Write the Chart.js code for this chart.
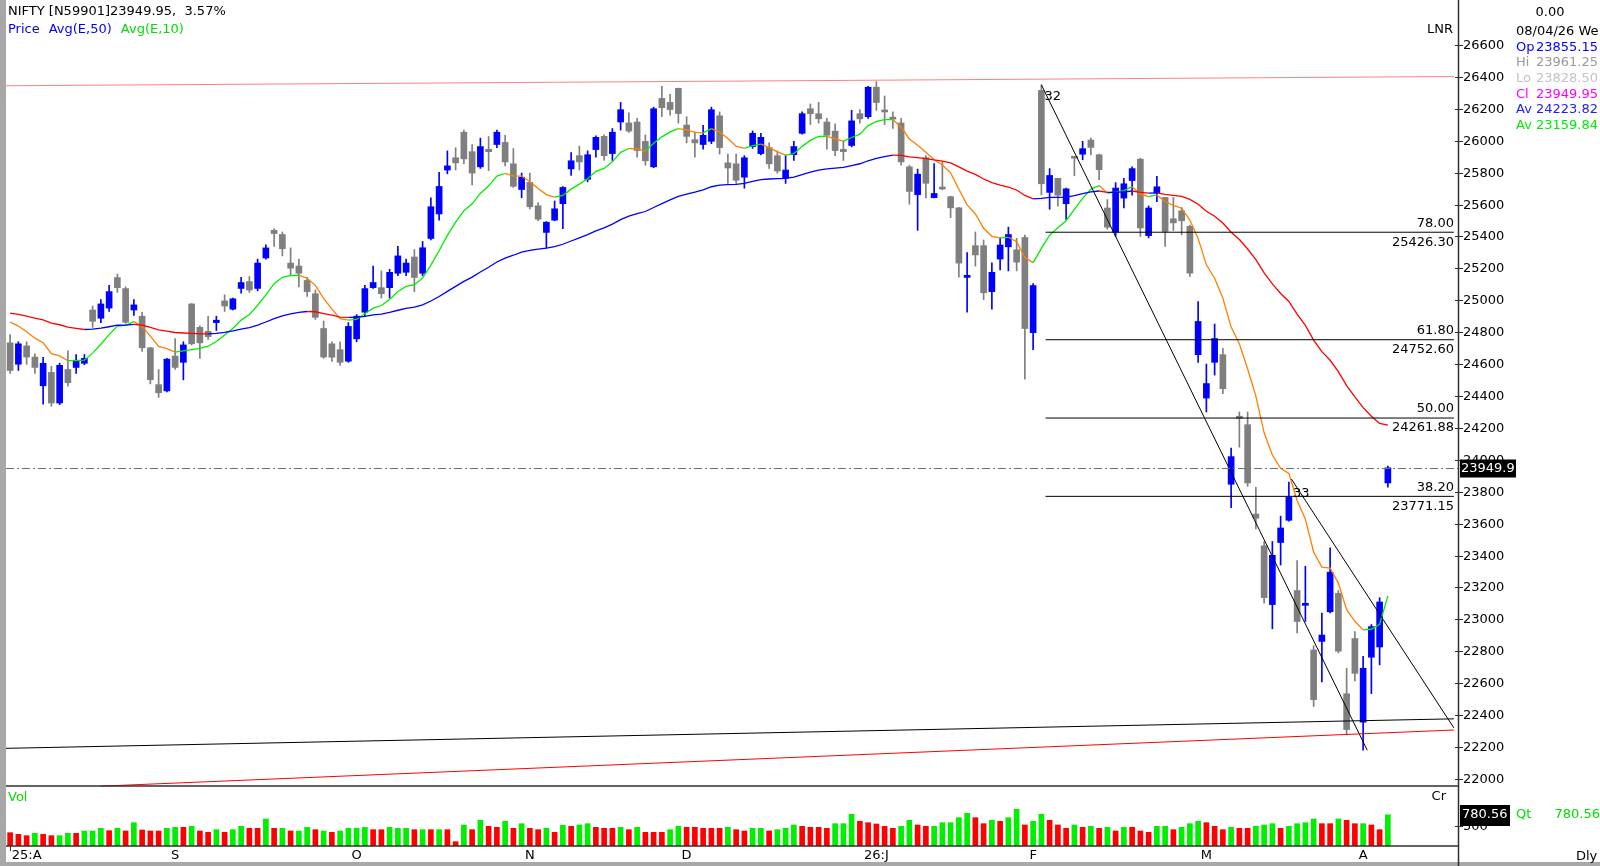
<!DOCTYPE html>
<html><head><meta charset="utf-8">
<script src="https://cdn.jsdelivr.net/npm/chart.js@4/dist/chart.umd.min.js"></script>
<style>html,body{margin:0;padding:0;background:#fff;overflow:hidden}canvas{display:block}</style>
</head><body><canvas id="c" width="1600" height="866"></canvas>
<script>
const opens=[24733,24599,24714,24644,24464,24548,24356,24566,24579,24605,
24939,24887,24951,25142,25073,24939,24900,24702,24471,24432,
24650,24611,24977,24830,24805,24860,24996,24944,25074,25117,
25074,25265,25438,25412,25233,25214,25124,25041,24823,24727,
24690,24618,24758,24925,25079,25079,25079,25169,25175,25271,
25169,25387,25541,25816,25893,26053,25931,25836,25946,25976,
25989,25855,25694,25739,25592,25425,25502,25605,25823,25906,
25758,25944,26027,25919,26117,26111,26117,25996,25836,26265,
26240,26328,26098,26006,25976,25996,26156,25861,25855,25771,
25963,25919,25957,25906,25765,25912,26046,26200,26169,26117,
26060,25946,25970,26169,26150,26335,26190,26140,26111,25836,
25662,25893,25643,25707,25649,25579,25143,25342,25342,25054,
25258,25335,25316,25393,24797,26315,25676,25764,25605,25900,
25915,26004,25911,25578,25426,25640,25750,25884,25405,25671,
25644,25511,25560,25463,24659,24387,24611,24659,23847,24273,
24220,23660,23461,23093,23482,23621,23181,23088,22808,22862,
23048,23163,22534,22880,22356,22763,22827,23855.15];
const highs=[24785,24740,24740,24665,24643,24586,24606,24683,24660,24660,
24964,25004,25094,25164,25084,25004,24925,24705,24566,24636,
24760,24740,24979,24840,24900,24900,25034,25014,25144,25149,
25258,25348,25448,25428,25328,25258,25144,25064,24870,24740,
24740,24860,24910,25094,25214,25184,25194,25338,25258,25318,
25368,25642,25802,25936,25956,26066,25976,26016,26026,26066,
26034,25951,25797,25797,25612,25493,25622,25712,25926,25966,
25936,26031,26036,26076,26240,26175,26140,26036,26210,26340,
26290,26330,26150,26056,26096,26210,26180,25916,25916,25906,
26061,26046,25986,25936,25906,25996,26180,26230,26240,26140,
26106,25996,26190,26195,26340,26370,26280,26180,26140,25846,
25822,25906,25856,25866,25652,25582,25298,25428,25378,25234,
25390,25458,25388,25408,25105,26350,25825,25764,25703,25900,
25996,26017,25916,25631,25737,25764,25836,25890,25591,25777,
25644,25644,25580,25471,24992,24600,24851,24699,24073,24300,
24300,23828,23487,23488,23647,23860,23368,23333,22835,23040,
23448,23181,22694,22923,22768,22968,23136,23961.25];
const lows=[24541,24560,24599,24541,24349,24336,24346,24462,24541,24596,
24830,24860,24930,25049,24855,24905,24680,24476,24391,24426,
24566,24501,24720,24636,24755,24810,24930,24939,25044,25049,
25059,25258,25338,25278,25154,25084,25024,24880,24636,24616,
24591,24611,24740,24900,25074,25014,25014,25154,25154,25054,
25154,25378,25502,25792,25816,25856,25722,25826,25812,25956,
25842,25707,25643,25572,25498,25328,25498,25448,25782,25816,
25742,25896,25876,25876,26066,26051,25896,25846,25831,26150,
26160,26110,25986,25896,25946,25981,25916,25732,25732,25702,
25951,25911,25826,25796,25732,25876,26041,26101,26110,25946,
25906,25876,25961,26110,26140,26190,26101,26076,25846,25602,
25438,25642,25642,25692,25518,25144,24925,25214,25004,24944,
25190,25184,25184,24506,24690,25660,25570,25590,25506,25780,
25880,25910,25756,25445,25400,25578,25658,25400,25391,25618,
25338,25437,25410,25150,24611,24300,24531,24414,23700,24079,
23834,23567,23101,22941,23341,23615,22915,22987,22454,22609,
23040,22790,22276,22614,22180,22535,22715,23828.50];
const closes=[24560,24727,24644,24579,24605,24356,24592,24483,24624,24636,
24868,24977,25054,25079,24862,24971,24702,24502,24420,24631,
24579,24720,24727,24733,24772,24875,24964,25009,25111,25064,
25233,25328,25418,25323,25201,25169,25054,24893,24644,24643,
24611,24836,24900,25073,25111,25041,25175,25278,25233,25143,
25329,25586,25713,25842,25861,25886,25797,25963,25931,26053,
25867,25714,25771,25586,25508,25489,25573,25707,25874,25867,
25912,26021,25906,26053,26194,26060,25938,25874,26200,26207,
26195,26170,26027,25986,26034,26194,25957,25829,25752,25893,
26046,26021,25855,25810,25816,25963,26169,26169,26137,26034,
25938,25931,26124,26137,26335,26239,26180,26135,25867,25682,
25790,25733,25669,25697,25579,25233,25156,25284,25047,25175,
25346,25412,25239,24823,25092,25730,25782,25658,25698,25890,
25950,25958,25818,25458,25703,25730,25825,25453,25578,25711,
25431,25485,25498,25170,24867,24478,24760,24446,24020,24260,
23855,23634,23136,23402,23573,23767,22987,23101,22497,22902,
23296,22801,22310,22662,22694,22955,23109,23949.95];
const volumes=[333,292,258,317,292,258,258,317,317,375,375,442,383,442,375,583,400,375,375,442,
467,467,492,375,342,408,342,408,492,442,442,675,442,442,375,375,467,408,375,342,
375,442,442,467,408,408,467,442,442,408,408,408,408,408,108,525,408,642,492,467,
617,442,558,442,408,442,342,517,492,525,558,467,442,442,467,408,467,342,342,342,
408,492,467,467,442,
442,442,467,408,375,442,442,375,408,442,525,492,467,467,442,558,558,792,617,583,
550,492,442,492,642,525,492,492,583,583,708,817,708,558,642,617,708,917,525,617,
792,642,525,442,525,467,492,442,467,375,467,467,375,342,492,492,408,467,558,617,
583,492,408,467,442,442,492,525,558,442,492,558,583,675,558,558,675,642,558,558,
525,408,780.56];
const volDirection=("RRRGRRGGRGGGRGRGRRRGGRGRRGRGGRRGRGRGGRGRGGGGRRGGGRGRGRRGRGRRGRGRRGRGRGGRRRGRGRRRGGRRR"+
"RRGRRGGRGGGRRRRGGGRRRRRGGRRGGGGGRRGRGGRGGRRRGRGRGRGRRRGGRGGGRRRGRRGGGRGGGGRRGRRGRRG").split("");
const ema50Start=24919, ema10Start=24863;
const monthIdx=[2,20,42,63,82,105,124,145,164];
const monthLabels=['25:A','S','O','N','D','26:J','F','M','A'];
const fibPct=['78.00','61.80','50.00','38.20'];
const fibVals=[25426.30,24752.60,24261.88,23771.15];
const priceTicks=[22000,22200,22400,22600,22800,23000,23200,23400,23600,23800,24000,24200,24400,24600,24800,25000,25200,25400,25600,25800,26000,26200,26400,26600];
const lastClose=23949.95;
const topLine=[[-0.5,26344],[175,26402]];
const supportLine=[[-0.5,22192],[175,22377]];
const redSupport=[[11,21955],[175,22307]];
const trend1=[[125,26350],[164.5,22180]];
const trend2=[[155.3,23880],[175,22320]];

function ema(vals,start,n){const k=2/(n+1);const out=[start];for(let i=1;i<vals.length;i++)out.push(out[i-1]+k*(vals[i]-out[i-1]));return out;}
const e50=ema(closes,ema50Start,50), e10=ema(closes,ema10Start,10);
const up=closes.map((c,i)=>c>=opens[i]);
const cCol=up.map(u=>u?'#0000ff':'#7f7f7f');
const toXY=a=>a.map(p=>({x:p[0],y:p[1]}));
const lineDs=(pts,color,w)=>({type:'line',data:toXY(pts),borderColor:color,borderWidth:w||1,pointRadius:0,yAxisID:'y',order:0});

const datasets=[
 {type:'bar',data:lows.map((l,i)=>({x:i,y:[l,highs[i]]})),backgroundColor:cCol,barThickness:1,grouped:false,yAxisID:'y',order:3},
 {type:'bar',data:opens.map((o,i)=>({x:i,y:[Math.min(o,closes[i]),Math.max(o,closes[i])]})),backgroundColor:cCol,barThickness:6,minBarLength:2,grouped:false,yAxisID:'y',order:2},
 {type:'bar',data:volumes.map((v,i)=>({x:i,y:v})),backgroundColor:volDirection.map(d=>d==='G'?'#00ee00':'#ff0000'),barThickness:5,grouped:false,yAxisID:'yv',order:2},
 {type:'line',data:e50.map((v,i)=>({x:i,y:v})),borderWidth:1.3,pointRadius:0,yAxisID:'y',order:1,
  segment:{borderColor:c=>c.p1.parsed.y>=c.p0.parsed.y?'#0000ff':'#ff0000'}},
 {type:'line',data:e10.map((v,i)=>({x:i,y:v})),borderWidth:1.3,pointRadius:0,yAxisID:'y',order:1,
  segment:{borderColor:c=>c.p1.parsed.y>=c.p0.parsed.y?'#00ee00':'#ff8000'}},
 lineDs(topLine,'#ff8080'),lineDs(supportLine,'#000'),lineDs(redSupport,'#ff0000'),
 lineDs(trend1,'#000'),lineDs(trend2,'#000'),
 ...fibVals.map(v=>lineDs([[125.5,v],[175,v]],'#000'))
];

const FONT='13px "DejaVu Sans"';
const overlay={id:'overlay',
 beforeDraw(ch){const c=ch.ctx;c.save();c.fillStyle='#fff';c.fillRect(0,0,1600,866);c.restore();},
 afterDatasetsDraw(ch){
  const c=ch.ctx,x=ch.scales.x,y=ch.scales.y,yv=ch.scales.yv;c.save();
  c.strokeStyle='#707070';c.lineWidth=1;c.setLineDash([8,3,2,3]);
  const ly=Math.round(y.getPixelForValue(lastClose))+0.5;
  c.beginPath();c.moveTo(6,ly);c.lineTo(1458,ly);c.stroke();c.setLineDash([]);
  c.fillStyle='#a8a8a8';c.fillRect(0,0,6,866);c.fillRect(0,862,1600,4);
  c.strokeStyle='#303030';c.lineWidth=1.5;
  c.beginPath();c.moveTo(6,786);c.lineTo(1458,786);c.moveTo(6,846);c.lineTo(1458,846);c.stroke();
  c.beginPath();c.moveTo(1458.5,0);c.lineTo(1458.5,866);c.lineWidth=1.5;c.stroke();
  c.font=FONT;c.textBaseline='middle';
  c.fillStyle='#000';c.textAlign='left';c.lineWidth=1;
  priceTicks.forEach(v=>{const py=Math.round(y.getPixelForValue(v))+0.5;c.beginPath();c.moveTo(1455,py);c.lineTo(1463,py);c.stroke();c.fillText(String(v),1463,py);});
  const vy=Math.round(yv.getPixelForValue(500))+0.5;c.beginPath();c.moveTo(1455,vy);c.lineTo(1463,vy);c.stroke();c.fillText('500',1463,vy);
  c.textAlign='center';
  monthIdx.forEach((m,i)=>{const px=x.getPixelForValue(m);c.fillText(monthLabels[i],px,856);});
  c.beginPath();c.moveTo(10.5,846);c.lineTo(10.5,851);c.stroke();
  c.textAlign='right';
  fibVals.forEach((v,i)=>{const py=y.getPixelForValue(v);c.fillText(fibPct[i],1454,py-9);c.fillText(v.toFixed(2),1454,py+10);});
  c.textAlign='left';
  c.fillText('32',x.getPixelForValue(125)+3,y.getPixelForValue(26350)+12);
  c.fillText('33',x.getPixelForValue(155)+4,y.getPixelForValue(23860)+11);
  c.fillText('NIFTY [N59901]23949.95,  3.57%',8,12);
  let hx=8;const seg=[['Price','#0000ff'],['Avg(E,50)','#0000ff'],['Avg(E,10)','#00dd00']];
  seg.forEach(s=>{c.fillStyle=s[1];c.fillText(s[0],hx,30);hx+=c.measureText(s[0]).width+9;});
  c.fillStyle='#00dd00';c.fillText('Vol',8,798);
  c.fillStyle='#000';c.textAlign='right';c.fillText('LNR',1453,30);c.fillText('Cr',1446,797);
  c.fillStyle='#000';c.fillRect(1460,ly-9,56,18);c.fillStyle='#fff';c.textAlign='left';c.fillText('23949.9',1461,ly);
  c.fillStyle='#000';c.fillRect(1460,805,50,21);c.fillStyle='#fff';c.fillText('780.56',1462,815);
  c.fillStyle='#00dd00';c.fillText('Qt',1516,815);c.textAlign='right';c.fillText('780.56',1600,815);
  c.fillStyle='#000';c.textAlign='center';c.fillText('0.00',1550,13);
  c.textAlign='left';c.fillText('08/04/26 We',1516,32);
  const info=[['Op','23855.15','#0000ff',48],['Hi','23961.25','#9a9a9a',63],['Lo','23828.50','#c4c4c4',79],['Cl','23949.95','#ff00ff',95],['Av','24223.82','#2020ff',110],['Av','23159.84','#00ee00',126]];
  info.forEach(r=>{c.fillStyle=r[2];c.fillText(r[0],1516,r[3]);c.fillText(r[1],1536,r[3]);});
  c.fillStyle='#000';c.fillText('Dly',1576,857);
  c.restore();
 }};

new Chart(document.getElementById('c'),{
 data:{datasets},
 options:{responsive:false,animation:false,devicePixelRatio:1,
  layout:{padding:{left:6,right:142,top:2,bottom:20}},
  plugins:{legend:{display:false},tooltip:{enabled:false}},
  scales:{
   x:{type:'linear',display:false,offset:false,min:-0.5,max:175.5},
   y:{display:false,min:21580,max:26869},
   yv:{display:false,min:0,max:21100}
  }},
 plugins:[overlay]
});
</script></body></html>
